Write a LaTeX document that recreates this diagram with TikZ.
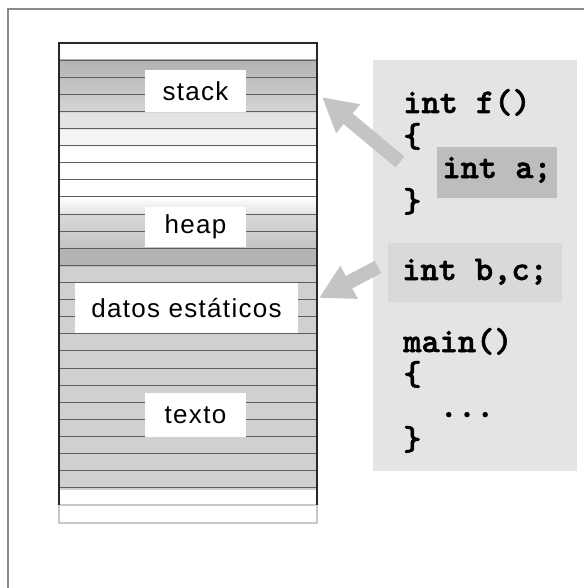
\documentclass[tikz,border=0pt]{standalone}
\usepackage{fontspec}
\usetikzlibrary{arrows.meta}

\newfontfamily\labelfont[LetterSpace=5]{Liberation Sans}
\newfontfamily\codefont[FakeBold=1.6]{lmmonolt10-bold.otf}

\definecolor{framegray}{HTML}{8A8A8A}
\definecolor{rowline}{HTML}{5E5E5E}
\definecolor{memborder}{HTML}{282828}
\definecolor{ghostrow}{HTML}{C8C8C8}
\definecolor{stacktop}{HTML}{B2B2B2}
\definecolor{stackmid}{HTML}{D6D6D6}
\definecolor{stackfade}{HTML}{E4E4E4}
\definecolor{stacklight}{HTML}{F4F4F4}
\definecolor{heapfade}{HTML}{E2E2E2}
\definecolor{heaptop}{HTML}{D8D8D8}
\definecolor{heapmid}{HTML}{C4C4C4}
\definecolor{heapdark}{HTML}{B4B4B4}
\definecolor{panelgray}{HTML}{E4E4E4}
\definecolor{boxdark}{HTML}{BDBDBD}
\definecolor{boxlight}{HTML}{D9D9D9}
\definecolor{datagray}{HTML}{D0D0D0}
\definecolor{arrowgray}{HTML}{C4C4C4}

\begin{document}
\begin{tikzpicture}[x=0.75pt,y=-0.75pt,
    memlabel/.style={fill=white, inner sep=0pt, font=\labelfont\fontsize{19.5}{22}\selectfont},
    codeline/.style={anchor=base west, inner sep=0pt, font=\codefont\fontsize{26}{30}\selectfont},
    codebox/.style={inner sep=0pt, font=\codefont\fontsize{26}{30}\selectfont},
    bigarrow/.style={draw=arrowgray, line width=10.5pt, -{Triangle[width=26.25pt,length=25.5pt]}}
  ]
  \useasboundingbox (0,0) rectangle (584,588);

  % frame
  \draw[framegray, line width=1.5pt] (8,588) -- (8,9) -- (584,9);

  % memory column
  \fill[white] (59,43) rectangle (317,60);
  \shade[top color=stacktop, bottom color=stackmid] (59,60) rectangle (317,113);
  \fill[stackfade] (59,113) rectangle (317,130);
  \fill[stacklight] (59,130) rectangle (317,147);
  \shade[top color=white, bottom color=heapfade] (59,197) rectangle (317,214);
  \shade[top color=heaptop, bottom color=heapmid] (59,214) rectangle (317,249);
  \fill[heapdark] (59,249) rectangle (317,267);
  \fill[datagray] (59,267) rectangle (317,490);

  \foreach \i in {1,...,26}
    \draw[rowline, line width=0.75pt] (59,43+\i*17.11) -- (317,43+\i*17.11);
  \draw[ghostrow, line width=1.2pt] (59,505) rectangle (317,523);
  \draw[memborder, line width=1.1pt] (59,505) -- (59,43) -- (317,43) -- (317,505);

  \node[memlabel, minimum width=75.75pt, minimum height=31.5pt] (stack) at (195.5,91) {stack};
  \node[memlabel, minimum width=75.75pt, minimum height=30pt] (heap) at (195.5,227) {heap};
  \node[memlabel, minimum width=167.25pt, minimum height=37.5pt] (datos) at (186.5,308) {datos estáticos};
  \node[memlabel, minimum width=75.75pt, minimum height=33pt] (texto) at (195.5,415) {texto};

  % code panel
  \fill[panelgray] (373,60) rectangle (577,471);
  \node[codeline] (fdecl) at (403,113) {int f()};
  \node[codeline] (fopen) at (403,147) {\{};
  \node[codebox, fill=boxdark, minimum width=90pt, minimum height=38.25pt,
        text height=14pt, text depth=5.75pt] (vara) at (497,172.5) {int a;};
  \node[codeline] (fclose) at (403,212) {\}};
  \node[codebox, fill=boxlight, minimum width=130.5pt, minimum height=44.25pt,
        text height=15pt, text depth=3.75pt] (varbc) at (475,272.5) {int b,c;};
  \node[codeline] (mdecl) at (403,352) {main()};
  \node[codeline] (mopen) at (403,385) {\{};
  \node[codeline] (mbody) at (403,417) {\ \ ...};
  \node[codeline] (mclose) at (403,450) {\}};

  % arrows
  \coordinate (stackin) at (322,97);
  \coordinate (datosin) at (319,298);
  \coordinate (aout) at (400,162);
  \coordinate (bcout) at (378,267);
  \draw[bigarrow] (aout) -- (stackin);
  \draw[bigarrow] (bcout) -- (datosin);
\end{tikzpicture}
\end{document}
